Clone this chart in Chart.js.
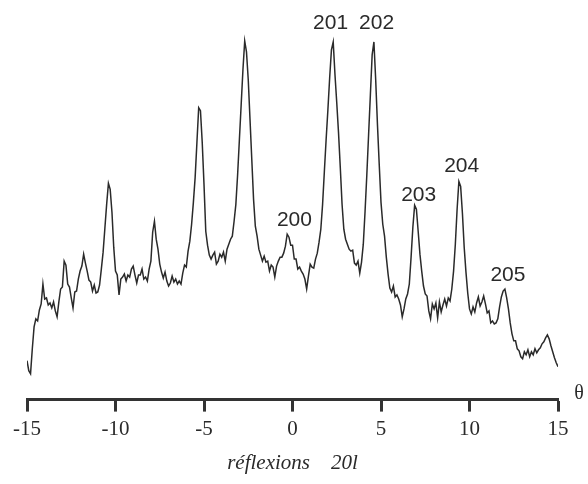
<!DOCTYPE html>
<html>
<head>
<meta charset="utf-8">
<script src="https://cdn.jsdelivr.net/npm/chart.js@4"></script>
<style>
  body { margin: 0; background: #fff; }
</style>
</head>
<body>
<canvas id="myChart" width="588" height="484"></canvas>
<script>
/* data : angle theta (deg) and measured intensity (arbitrary units) */
const theta = [
  -15.0, -14.9, -14.8, -14.7, -14.6, -14.5, -14.4, -14.3, -14.2, -14.1,
  -14.0, -13.9, -13.8, -13.7, -13.6, -13.5, -13.4, -13.3, -13.2, -13.1,
  -13.0, -12.9, -12.8, -12.7, -12.6, -12.5, -12.4, -12.3, -12.2, -12.1,
  -12.0, -11.9, -11.8, -11.7, -11.6, -11.5, -11.4, -11.3, -11.2, -11.1,
  -11.0, -10.9, -10.8, -10.7, -10.6, -10.5, -10.4, -10.3, -10.2, -10.1,
  -10.0, -9.9, -9.8, -9.7, -9.6, -9.5, -9.4, -9.3, -9.2, -9.1,
  -9.0, -8.9, -8.8, -8.7, -8.6, -8.5, -8.4, -8.3, -8.2, -8.1,
  -8.0, -7.9, -7.8, -7.7, -7.6, -7.5, -7.4, -7.3, -7.2, -7.1,
  -7.0, -6.9, -6.8, -6.7, -6.6, -6.5, -6.4, -6.3, -6.2, -6.1,
  -6.0, -5.9, -5.8, -5.7, -5.6, -5.5, -5.4, -5.3, -5.2, -5.1,
  -5.0, -4.9, -4.8, -4.7, -4.6, -4.5, -4.4, -4.3, -4.2, -4.1,
  -4.0, -3.9, -3.8, -3.7, -3.6, -3.5, -3.4, -3.3, -3.2, -3.1,
  -3.0, -2.9, -2.8, -2.7, -2.6, -2.5, -2.4, -2.3, -2.2, -2.1,
  -2.0, -1.9, -1.8, -1.7, -1.6, -1.5, -1.4, -1.3, -1.2, -1.1,
  -1.0, -0.9, -0.8, -0.7, -0.6, -0.5, -0.4, -0.3, -0.2, -0.1,
  0.0, 0.1, 0.2, 0.3, 0.4, 0.5, 0.6, 0.7, 0.8, 0.9,
  1.0, 1.1, 1.2, 1.3, 1.4, 1.5, 1.6, 1.7, 1.8, 1.9,
  2.0, 2.1, 2.2, 2.3, 2.4, 2.5, 2.6, 2.7, 2.8, 2.9,
  3.0, 3.1, 3.2, 3.3, 3.4, 3.5, 3.6, 3.7, 3.8, 3.9,
  4.0, 4.1, 4.2, 4.3, 4.4, 4.5, 4.6, 4.7, 4.8, 4.9,
  5.0, 5.1, 5.2, 5.3, 5.4, 5.5, 5.6, 5.7, 5.8, 5.9,
  6.0, 6.1, 6.2, 6.3, 6.4, 6.5, 6.6, 6.7, 6.8, 6.9,
  7.0, 7.1, 7.2, 7.3, 7.4, 7.5, 7.6, 7.7, 7.8, 7.9,
  8.0, 8.1, 8.2, 8.3, 8.4, 8.5, 8.6, 8.7, 8.8, 8.9,
  9.0, 9.1, 9.2, 9.3, 9.4, 9.5, 9.6, 9.7, 9.8, 9.9,
  10.0, 10.1, 10.2, 10.3, 10.4, 10.5, 10.6, 10.7, 10.8, 10.9,
  11.0, 11.1, 11.2, 11.3, 11.4, 11.5, 11.6, 11.7, 11.8, 11.9,
  12.0, 12.1, 12.2, 12.3, 12.4, 12.5, 12.6, 12.7, 12.8, 12.9,
  13.0, 13.1, 13.2, 13.3, 13.4, 13.5, 13.6, 13.7, 13.8, 13.9,
  14.0, 14.1, 14.2, 14.3, 14.4, 14.5, 14.6, 14.7, 14.8, 14.9,
  15.0
];

const intensity = [
  41, 31, 28, 53, 75, 83, 81, 92, 98, 118,
  103, 104, 97, 99, 94, 100, 91, 85, 100, 113,
  115, 141, 137, 118, 115, 104, 94, 110, 111, 123,
  131, 136, 148, 139, 131, 122, 120, 111, 117, 109,
  110, 117, 133, 150, 174, 198, 219, 213, 190, 155,
  131, 127, 107, 123, 125, 128, 121, 127, 125, 133,
  136, 127, 119, 127, 127, 133, 123, 125, 121, 133,
  141, 170, 181, 163, 153, 138, 130, 124, 130, 121,
  116, 119, 126, 120, 123, 118, 121, 118, 129, 137,
  135, 151, 161, 178, 200, 225, 260, 295, 292, 260,
  218, 171, 157, 147, 143, 147, 150, 138, 141, 148,
  145, 150, 141, 153, 158, 163, 166, 181, 198, 228,
  263, 298, 333, 362, 351, 323, 283, 243, 203, 176,
  166, 153, 147, 141, 146, 140, 141, 131, 137, 135,
  125, 136, 141, 145, 145, 149, 156, 168, 165, 157,
  157, 143, 143, 133, 135, 131, 128, 123, 113, 126,
  138, 135, 134, 143, 149, 160, 173, 198, 231, 263,
  293, 325, 353, 361, 328, 300, 270, 235, 198, 173,
  163, 158, 153, 151, 152, 139, 137, 141, 129, 140,
  158, 191, 228, 268, 308, 348, 361, 323, 278, 238,
  200, 178, 166, 145, 128, 114, 110, 116, 105, 107,
  103, 97, 85, 93, 103, 108, 118, 145, 175, 197,
  193, 171, 148, 131, 116, 108, 106, 91, 83, 98,
  93, 99, 84, 100, 90, 97, 103, 96, 104, 101,
  113, 131, 158, 193, 221, 216, 189, 155, 130, 109,
  93, 88, 95, 90, 99, 105, 96, 100, 106, 98,
  89, 91, 79, 81, 78, 79, 83, 95, 105, 111,
  113, 104, 93, 79, 68, 61, 61, 53, 51, 45,
  43, 50, 47, 52, 45, 50, 47, 53, 49, 52,
  54, 58, 60, 64, 67, 63, 56, 50, 44, 39,
  35
];

// reflexion labels 20l
const peakNames = ['200', '201', '202', '203', '204', '205'];
const peakTheta = [0.11, 2.15, 4.75, 7.13, 9.56, 12.17];
const peakLabelY = [182, 380, 380, 207, 236, 127];

const xTicks = [-15, -10, -5, 0, 5, 10, 15];

const points = theta.map((t, i) => ({x: t, y: intensity[i]}));

// draw the reflexion names + theta symbol
const labelPlugin = {
  id: 'labelPlugin',
  afterDraw(chart) {
    const {ctx, scales: {x, y}, chartArea} = chart;
    ctx.save();
    ctx.fillStyle = '#2a2a2a';
    ctx.textAlign = 'center';
    ctx.textBaseline = 'middle';
    ctx.font = '21px "Liberation Sans"';
    peakNames.forEach((name, i) => {
      ctx.fillText(name, x.getPixelForValue(peakTheta[i]), y.getPixelForValue(peakLabelY[i]));
    });
    ctx.font = '20px "Liberation Serif"';
    ctx.fillText('θ', chartArea.right + 21, chartArea.bottom - 6);
    ctx.restore();
  }
};

const ctx = document.getElementById('myChart').getContext('2d');
const myChart = new Chart(ctx, {
  type: 'line',
  data: {
    datasets: [{
      data: points,
      borderColor: '#2a2a2a',
      borderWidth: 1.5,
      pointRadius: 0,
      tension: 0,
      fill: false
    }]
  },
  options: {
    responsive: false,
    animation: false,
    layout: {
      padding: {left: 27, right: 30, top: 23, bottom: 4}
    },
    plugins: {
      legend: {display: false},
      tooltip: {enabled: false}
    },
    scales: {
      x: {
        type: 'linear',
        min: -15,
        max: 15,
        afterBuildTicks: (axis) => { axis.ticks = xTicks.map(v => ({value: v})); },
        ticks: {
          color: '#2a2a2a',
          padding: 5,
          font: {family: '"Liberation Serif"', size: 21}
        },
        grid: {
          drawOnChartArea: false,
          drawTicks: true,
          tickLength: 12,
          tickWidth: 3,
          tickColor: '#333'
        },
        border: {display: true, width: 3, color: '#333'},
        title: {
          display: true,
          text: 'réflexions    20l',
          color: '#2a2a2a',
          font: {family: '"Liberation Serif"', size: 21, style: 'italic'},
          padding: {top: 4, bottom: 4}
        }
      },
      y: {
        display: false,
        min: 2,
        max: 380
      }
    }
  },
  plugins: [labelPlugin]
});
</script>
</body>
</html>
